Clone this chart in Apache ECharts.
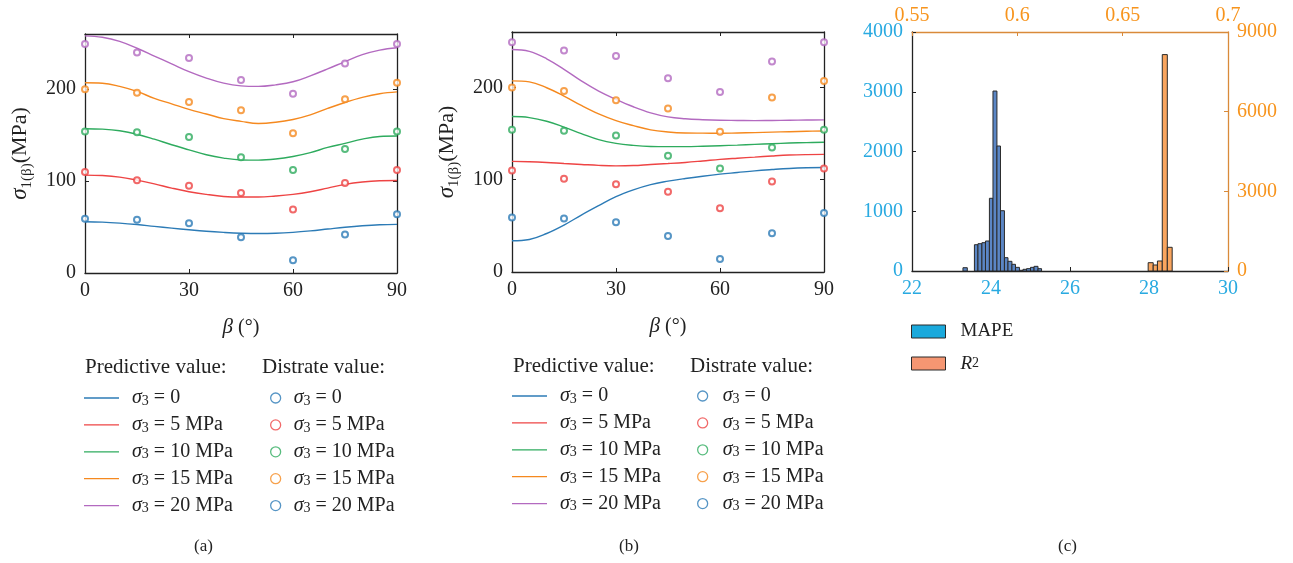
<!DOCTYPE html>
<html><head><meta charset="utf-8">
<script src="https://cdn.jsdelivr.net/npm/echarts@6/dist/echarts.min.js"></script>
<style>html,body{margin:0;padding:0;background:#fff}#c{width:1293px;height:563px}</style>
</head><body><div id="c"></div>
<script>
// ---------- data ----------
const beta = [0, 15, 30, 45, 60, 75, 90];
const pts0 = [59, 58, 54, 39, 14, 42, 64];
const pts5 = [110, 101, 95, 87, 69, 98, 112];
const pts10 = [154, 153, 148, 126, 112, 135, 154];
const pts15 = [200, 196, 186, 177, 152, 189, 207];
const pts20 = [249, 240, 234, 210, 195, 228, 249];

const betaFine = [0,5,10,15,20,25,30,35,40,45,50,55,60,65,70,75,80,85,90];
const aPred0  = [55.8,55.4,54.3,52.7,50.7,48.8,47.0,45.4,44.2,43.3,42.9,43.2,44.2,45.8,47.8,49.8,51.4,52.5,52.9];
const aPred5  = [106.5,106.0,104.3,101.0,97.0,92.4,88.4,85.5,83.3,82.6,82.6,83.7,85.5,88.4,92.4,96.4,99.0,100.4,100.7];
const aPred10 = [157,156.5,154.7,151,145.6,139.5,134,128.6,125,123,122.8,124,126.8,131,136.6,141,145.6,148.5,149];
const aPred15 = [207,206.5,203,197.5,190,184,178,173,168,165,162.7,164,167,172,179,185.5,191,195,197];
const aPred20 = [258,256.5,252,244.5,236,227.5,219,212,206.5,203.6,203,204.7,208,214.5,222,230,237.5,242.5,245];

const bPred0  = [33.8,35.2,41.7,50.8,61.7,71.9,81.7,89,94.7,98.4,101.3,103.8,106,107.8,109.6,111,112.2,112.9,113.2];
const bPred5  = [119.8,119.5,118.7,117.5,116.5,115.5,115,115.3,116.5,117.5,118.7,120.3,122,123.3,124.5,125.7,126.7,127.2,127.4];
const bPred10 = [168.4,167.3,163.3,157,150,143.4,139.4,137.2,136,135.8,135.8,136.2,136.8,137.5,138.3,139,139.7,140.2,140.5];
const bPred15 = [207,206,199.6,190.6,180.4,171.3,164,158.6,154,151.7,150.6,150.4,150.3,150.6,151,151.5,152,152.5,152.8];
const bPred20 = [241,239,231,219.6,207,196,187,179,172.4,168,166,165,164.4,164.2,164,164.2,164.4,164.6,164.8];

const sigmaLabels = ['0', '5 MPa', '10 MPa', '15 MPa', '20 MPa'];

const mapeBinLo = [23.29,23.58,23.67,23.77,23.86,23.96,24.05,24.15,24.24,24.34,24.43,24.53,24.62,24.72,24.81,24.90,25.00,25.09,25.19];
const mapeBinHi = [23.40,23.67,23.77,23.86,23.96,24.05,24.15,24.24,24.34,24.43,24.53,24.62,24.72,24.81,24.90,25.00,25.09,25.19,25.28];
const mapeCounts = [55,440,457,474,502,1217,3012,2092,1009,223,162,112,61,12,28,39,61,78,39];

const r2BinLo = [0.6621,0.6645,0.6665,0.6688,0.6712];
const r2BinHi = [0.6645,0.6665,0.6688,0.6712,0.6735];
const r2Counts = [313,226,377,8149,892];

// ---------- style ----------
const F = 'Liberation Serif, DejaVu Serif, serif';
const colors = ['#2c7bb6', '#ee4444', '#2eab5e', '#f5891f', '#b36ac0'];
const axisCol = '#222';
const cyan = '#29aae1', orange = '#f7941d', orangeLine = '#d98a3a';

const chart = echarts.init(document.getElementById('c'), null, {renderer: 'canvas'});

function zip(x, y) { return x.map((v, i) => [v, y[i]]); }
const plain = v => String(+(+v).toFixed(2));

const gridsPos = [
  {left: 85, top: 34, width: 312, height: 239},
  {left: 512, top: 32, width: 312, height: 240},
  {left: 912, top: 32, width: 316, height: 239}
];

const xAxes = [], yAxes = [];
function betaAxes(g) {
  const base = {gridIndex: g, type: 'value', min: 0, max: 90, interval: 30,
    axisLine: {onZero: false, lineStyle: {color: axisCol, width: 1.3}},
    axisTick: {inside: true, length: 4, lineStyle: {color: axisCol}},
    splitLine: {show: false}};
  xAxes.push(Object.assign({}, base, {position: 'bottom',
    axisLabel: {color: axisCol, fontFamily: F, fontSize: 20, margin: 8},
    name: '{i|β} (°)', nameLocation: 'middle', nameGap: 44,
    nameTextStyle: {fontFamily: F, fontSize: 20, color: axisCol, rich: {i: {fontFamily: F, fontSize: 21, fontStyle: 'italic', color: axisCol}}}}));
  xAxes.push(Object.assign({}, base, {position: 'top', axisLabel: {show: false}}));
  const ybase = {gridIndex: g, type: 'value', min: 0, max: 260, interval: 100,
    axisLine: {onZero: false, lineStyle: {color: axisCol, width: 1.3}},
    axisTick: {inside: true, length: 4, lineStyle: {color: axisCol}},
    splitLine: {show: false}};
  yAxes.push(Object.assign({}, ybase, {position: 'left',
    axisLabel: {color: axisCol, fontFamily: F, fontSize: 20, margin: 9, showMaxLabel: false},
    name: '{i|σ}{s|1(β)}{n|(MPa)}', nameLocation: 'middle', nameGap: 50, nameRotate: 90,
    nameTextStyle: {color: axisCol, rich: {
      i: {fontFamily: F, fontSize: 23, fontStyle: 'italic', color: axisCol, lineHeight: 30, verticalAlign: 'middle'},
      s: {fontFamily: F, fontSize: 15, color: axisCol, lineHeight: 15, verticalAlign: 'bottom'},
      n: {fontFamily: F, fontSize: 22, color: axisCol, lineHeight: 30, verticalAlign: 'middle'}}}}));
  yAxes.push(Object.assign({}, ybase, {position: 'right', axisLabel: {show: false}}));
}
betaAxes(0); betaAxes(1);

xAxes.push({gridIndex: 2, type: 'value', position: 'bottom', min: 22, max: 30, interval: 2,
  axisLine: {onZero: false, lineStyle: {color: axisCol, width: 1.3}},
  axisTick: {inside: true, length: 4, lineStyle: {color: axisCol}},
  axisLabel: {color: cyan, fontFamily: F, fontSize: 20, margin: 8, formatter: plain}, splitLine: {show: false}});
xAxes.push({gridIndex: 2, type: 'value', position: 'top', min: 0.55, max: 0.7, interval: 0.05,
  axisLine: {onZero: false, lineStyle: {color: orangeLine, width: 1.3}},
  axisTick: {inside: true, length: 4, lineStyle: {color: orangeLine}},
  axisLabel: {color: orange, fontFamily: F, fontSize: 20, margin: 6, formatter: plain}, splitLine: {show: false}});
yAxes.push({gridIndex: 2, type: 'value', position: 'left', min: 0, max: 4000, interval: 1000,
  axisLine: {onZero: false, lineStyle: {color: axisCol, width: 1.3}},
  axisTick: {inside: true, length: 4, lineStyle: {color: axisCol}},
  axisLabel: {color: cyan, fontFamily: F, fontSize: 20, margin: 9, formatter: plain}, splitLine: {show: false}});
yAxes.push({gridIndex: 2, type: 'value', position: 'right', min: 0, max: 9000, interval: 3000,
  axisLine: {onZero: false, lineStyle: {color: orangeLine, width: 1.3}},
  axisTick: {inside: true, length: 4, lineStyle: {color: orangeLine}},
  axisLabel: {color: orange, fontFamily: F, fontSize: 20, margin: 9, formatter: plain}, splitLine: {show: false}});

const series = [];
const nameMap = {};
const predA = [aPred0, aPred5, aPred10, aPred15, aPred20];
const predB = [bPred0, bPred5, bPred10, bPred15, bPred20];
const ptsAll = [pts0, pts5, pts10, pts15, pts20];
['a', 'b'].forEach((p, pi) => {
  const preds = pi === 0 ? predA : predB;
  preds.forEach((arr, k) => {
    const nm = p + '-line-' + k; nameMap[nm] = sigmaLabels[k];
    series.push({name: nm, type: 'line', xAxisIndex: pi * 2, yAxisIndex: pi * 2,
      data: zip(betaFine, arr), smooth: 0.4, symbol: 'none', color: colors[k],
      lineStyle: {width: 1.4, color: colors[k]}, z: 2, animation: false});
  });
  ptsAll.forEach((arr, k) => {
    const nm = p + '-pt-' + k; nameMap[nm] = sigmaLabels[k];
    series.push({name: nm, type: 'scatter', xAxisIndex: pi * 2, yAxisIndex: pi * 2,
      data: zip(beta, arr), symbol: 'emptyCircle', symbolSize: 6, color: colors[k],
      itemStyle: {color: colors[k], borderWidth: 1.3}, z: 3, animation: false});
  });
});

function histRender(fill) {
  return function (params, api) {
    const p0 = api.coord([api.value(0), api.value(2)]);
    const p1 = api.coord([api.value(1), 0]);
    return {type: 'rect', shape: {x: p0[0], y: p0[1], width: p1[0] - p0[0], height: p1[1] - p0[1]},
      style: {fill: fill, stroke: '#2a2a2a', lineWidth: 1}};
  };
}
nameMap['MAPE'] = 'MAPE'; nameMap['R2'] = 'R2';
series.push({name: 'MAPE', type: 'custom', xAxisIndex: 4, yAxisIndex: 4, color: '#5b86c5',
  renderItem: histRender('#5b86c5'), encode: {x: [0, 1], y: 2},
  data: mapeBinLo.map((v, i) => [v, mapeBinHi[i], mapeCounts[i]]), animation: false, clip: true});
series.push({name: 'R2', type: 'custom', xAxisIndex: 5, yAxisIndex: 5, color: '#f9a55e',
  renderItem: histRender('#f9a55e'), encode: {x: [0, 1], y: 2},
  data: r2BinLo.map((v, i) => [v, r2BinHi[i], r2Counts[i]]), animation: false, clip: true});

const sigRich = (pad) => ({
  p: {width: pad},
  i: {fontFamily: F, fontSize: 20, fontStyle: 'italic', color: axisCol, lineHeight: 20, verticalAlign: 'middle'},
  s: {fontFamily: F, fontSize: 14, color: axisCol, lineHeight: 12, verticalAlign: 'bottom'},
  t: {fontFamily: F, fontSize: 20, color: axisCol, lineHeight: 20, verticalAlign: 'middle'}
});
const sigFmt = name => '{p|}{i|σ}{s|3}{t| = ' + nameMap[name] + '}';

function lineLegend(p, left, top, pad) {
  return {orient: 'vertical', left: left, top: top, itemWidth: 35, itemHeight: 20, itemGap: 6.9,
    padding: 0, selectedMode: false, formatter: sigFmt,
    textStyle: {rich: sigRich(pad)},
    data: [0,1,2,3,4].map(k => ({name: p + '-line-' + k,
      icon: 'path://M0,0L35,0L35,1.3L0,1.3Z',
      itemStyle: {color: colors[k], borderWidth: 0}}))};
}
function ptLegend(p, left, top, pad) {
  return {orient: 'vertical', left: left, top: top, itemWidth: 10, itemHeight: 10, itemGap: 6.9,
    padding: 0, selectedMode: false, formatter: sigFmt,
    textStyle: {rich: sigRich(pad)},
    data: [0,1,2,3,4].map(k => ({name: p + '-pt-' + k, icon: 'circle',
      itemStyle: {color: '#fff', borderColor: k === 4 ? colors[0] : colors[k], borderWidth: 1.3}}))};
}

const legends = [
  lineLegend('a', 84, 388, 8), ptLegend('a', 270, 388, 8),
  lineLegend('b', 512, 386, 8), ptLegend('b', 697, 386, 10),
  {orient: 'vertical', left: 911, top: 322, itemWidth: 34, itemHeight: 13, itemGap: 13, padding: 0,
    selectedMode: false,
    formatter: n => n === 'MAPE' ? '{p|}{t|MAPE}' : '{p|}{i|R}{u|2}',
    textStyle: {rich: {
      p: {width: 10},
      t: {fontFamily: F, fontSize: 19, color: axisCol, lineHeight: 14, verticalAlign: 'middle'},
      i: {fontFamily: F, fontSize: 19, fontStyle: 'italic', color: axisCol, lineHeight: 14, verticalAlign: 'middle'},
      u: {fontFamily: F, fontSize: 14, color: axisCol, lineHeight: 10, verticalAlign: 'top'}}},
    data: [
      {name: 'MAPE', icon: 'rect', itemStyle: {color: '#1aa9dc', borderColor: '#2a2a2a', borderWidth: 1}},
      {name: 'R2', icon: 'rect', itemStyle: {color: '#f59672', borderColor: '#2a2a2a', borderWidth: 1}}]}
];

const tStyle = {fontFamily: F, fontSize: 21, fontWeight: 'normal', color: axisCol};
const pStyle = {fontFamily: F, fontSize: 17, fontWeight: 'normal', color: axisCol};
const titles = [
  {text: 'Predictive value:', left: 85, top: 357, textStyle: tStyle, padding: 0},
  {text: 'Distrate value:', left: 262, top: 357, textStyle: tStyle, padding: 0},
  {text: 'Predictive value:', left: 513, top: 356, textStyle: tStyle, padding: 0},
  {text: 'Distrate value:', left: 690, top: 356, textStyle: tStyle, padding: 0},
  {text: '(a)', left: 194, top: 538, textStyle: pStyle, padding: 0},
  {text: '(b)', left: 619, top: 538, textStyle: pStyle, padding: 0},
  {text: '(c)', left: 1058, top: 538, textStyle: pStyle, padding: 0}
];

chart.setOption({
  animation: false,
  backgroundColor: '#fff',
  title: titles,
  grid: gridsPos,
  xAxis: xAxes,
  yAxis: yAxes,
  legend: legends,
  series: series
});
</script></body></html>
